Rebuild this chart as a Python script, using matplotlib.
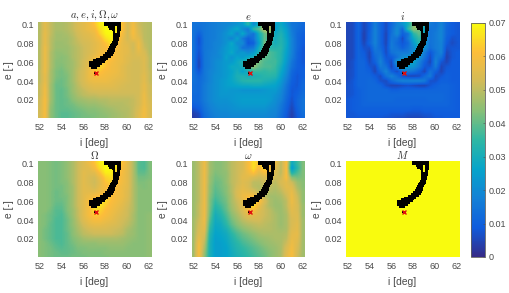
import numpy as np
import matplotlib
matplotlib.use("Agg")
import matplotlib.pyplot as plt
from matplotlib.colors import LinearSegmentedColormap
from matplotlib.cm import ScalarMappable
from matplotlib.colors import Normalize

plt.rcParams["font.family"] = ["Liberation Sans", "DejaVu Sans"]
plt.rcParams["mathtext.fontset"] = "cm"

# all grids in units of 1e-3, rows run from e=0.1 down to e=0, columns i=52..62
grid_all = [
    [49,56,51,48,48,49,51,54,56,58,62,68,70,70,68,62,53,59,52,50,49],
    [49,56,51,48,48,49,51,54,56,58,60,66,70,70,68,62,53,60,53,50,49],
    [49,57,51,47,47,48,50,53,55,56,58,64,69,70,67,60,53,60,54,50,49],
    [49,57,50,47,47,47,49,52,54,55,57,60,66,69,65,58,53,58,56,50,49],
    [49,57,50,46,46,47,49,51,53,54,56,58,62,66,62,57,55,53,58,51,49],
    [49,58,50,46,46,46,48,50,52,54,56,58,60,63,60,57,56,52,58,52,49],
    [49,58,49,45,45,46,48,50,52,54,56,59,60,62,59,57,56,53,56,54,49],
    [49,58,49,45,44,45,48,50,52,55,58,60,62,62,59,57,55,54,54,55,50],
    [49,58,49,44,44,45,47,50,53,56,60,62,63,60,58,57,55,53,53,55,50],
    [49,58,49,44,43,45,47,50,53,57,62,65,62,59,58,56,54,53,53,55,50],
    [50,58,48,43,42,44,47,51,54,58,63,62,60,59,58,56,54,53,53,55,51],
    [50,57,48,43,42,43,47,51,54,58,60,60,59,58,57,56,54,53,53,56,51],
    [50,57,48,42,41,43,47,51,54,57,58,58,58,57,56,55,54,53,53,56,51],
    [51,58,47,41,41,43,46,50,53,55,56,56,56,56,55,54,53,53,53,57,52],
    [51,59,47,41,40,42,46,49,51,53,54,54,54,54,54,53,53,53,53,57,52],
    [51,59,47,41,40,42,45,48,50,51,51,52,52,52,52,52,52,52,53,58,52],
    [52,60,47,41,40,41,44,46,47,48,48,49,49,50,50,50,50,51,53,58,53],
    [52,60,46,41,40,41,42,44,45,46,46,47,48,49,49,49,50,51,53,58,54],
    [53,60,45,41,40,40,41,42,43,44,44,45,46,47,48,49,49,51,54,59,54],
    [53,60,45,41,39,39,40,41,42,43,43,44,45,46,47,48,49,51,55,59,54],
    [53,60,45,41,39,39,40,41,42,42,43,44,44,46,47,48,49,51,55,59,54],
]

grid_e = [
    [14,14,15,16,17,18,19,20,22,24,35,20,30,55,50,25,28,22,15,14,12],
    [14,13,15,16,17,18,20,24,28,20,15,35,40,50,48,25,30,25,16,13,11],
    [14,10,15,16,17,19,22,26,18,28,18,14,30,40,44,28,32,26,17,12,10],
    [14,7,15,16,17,19,22,18,26,16,10,14,28,40,35,30,33,27,18,12,9],
    [14,7,15,16,18,19,22,28,20,20,8,10,25,42,35,30,33,28,18,12,9],
    [14,8,15,16,18,20,24,26,24,14,14,16,30,40,34,33,34,27,18,12,8],
    [14,7,15,17,18,21,24,28,22,24,20,24,32,42,38,36,33,26,18,11,8],
    [14,6,15,17,19,20,26,22,26,24,28,30,40,40,38,36,33,25,17,11,8],
    [14,5,15,17,20,22,24,24,28,32,34,45,42,38,37,37,32,24,15,10,8],
    [14,5,15,17,20,22,24,28,28,30,38,45,40,38,38,36,30,22,14,10,9],
    [14,8,15,18,20,22,24,26,30,26,30,36,36,35,36,35,28,21,12,9,10],
    [14,11,15,18,21,22,24,27,31,32,30,31,32,34,34,33,26,19,11,8,10],
    [14,12,15,18,21,23,25,27,30,33,34,34,34,32,31,29,24,17,10,8,11],
    [13,12,16,19,21,23,25,26,27,28,28,29,29,28,27,26,22,15,9,8,12],
    [13,12,16,19,21,23,24,23,23,22,22,22,22,23,24,24,20,14,8,9,12],
    [12,12,16,19,21,23,23,23,24,24,24,24,24,24,24,22,19,13,8,10,13],
    [12,12,16,19,21,22,22,23,24,25,25,25,25,25,24,21,18,12,7,11,14],
    [10,11,15,18,20,21,21,22,23,24,24,24,24,24,22,20,16,11,6,11,14],
    [7,9,14,17,19,20,20,21,22,22,22,22,22,22,20,19,15,10,5,10,14],
    [4,6,13,16,18,19,19,20,20,20,20,20,20,20,19,18,14,9,4,9,13],
    [3,5,12,15,17,18,18,19,19,19,19,19,19,19,18,17,13,8,4,8,12],
]

grid_i = [
    [5,6,11,5,9,17,11,6,12,18,22,30,45,55,30,16,14,18,12,9,8],
    [5,6,11,5,9,18,11,6,13,20,12,35,45,42,26,14,15,19,11,9,8],
    [5,6,11,4,10,18,11,5,14,20,10,14,34,40,28,14,16,19,11,9,8],
    [5,6,11,4,10,18,11,5,15,14,6,16,28,36,26,14,16,19,10,7,8],
    [5,6,11,5,11,18,11,5,16,12,8,12,24,34,24,14,16,18,9,6,8],
    [5,6,11,7,7,16,12,6,16,14,10,14,20,28,22,13,16,18,7,8,8],
    [5,6,11,9,5,14,14,6,14,16,16,16,22,26,16,8,14,18,5,8,9],
    [5,6,11,10,5,12,16,8,9,14,20,22,24,22,14,6,16,14,4,8,9],
    [5,7,11,11,6,10,18,10,6,24,28,25,26,18,10,5,18,8,5,9,9],
    [5,7,11,11,8,6,16,14,5,16,30,24,22,16,8,8,16,5,8,9,9],
    [6,7,11,11,10,5,12,18,10,6,14,16,14,10,5,14,10,5,9,9,9],
    [6,7,11,11,11,9,6,14,18,13,7,5,5,6,12,16,6,8,10,9,9],
    [6,8,11,11,12,11,7,6,12,16,18,18,18,18,16,7,7,10,10,9,9],
    [7,8,11,11,12,12,11,7,5,5,6,7,6,5,5,8,10,11,11,10,9],
    [7,8,10,11,12,12,12,12,10,10,11,11,11,11,11,11,11,11,11,10,9],
    [7,8,10,11,12,12,12,12,12,12,12,12,12,12,12,12,12,12,11,10,9],
    [8,9,10,11,12,12,12,12,12,11,11,11,11,11,11,12,12,12,11,10,9],
    [8,9,10,11,11,11,11,11,11,11,11,11,11,11,11,11,11,11,11,10,9],
    [8,9,10,10,10,10,10,10,10,10,10,10,9,9,10,10,10,10,10,10,9],
    [8,8,9,9,9,9,9,9,8,8,8,7,7,7,8,8,9,9,9,9,9],
    [8,8,8,8,8,8,8,7,7,6,6,5,5,5,6,7,8,8,9,9,9],
]

grid_raan = [
    [44,44,43,42,43,45,48,52,55,58,62,68,70,70,68,62,56,49,39,38,43],
    [44,44,43,42,43,45,48,52,55,56,60,66,70,70,66,60,56,49,39,38,43],
    [44,44,43,42,43,45,48,52,56,55,56,62,68,68,64,60,56,49,40,40,43],
    [44,44,43,42,43,45,48,52,56,54,53,58,64,66,62,59,56,49,42,42,43],
    [44,44,43,42,43,44,48,52,56,54,52,56,62,64,62,59,56,49,43,43,44],
    [44,44,43,42,42,44,47,52,56,55,53,57,60,62,60,58,56,49,44,43,44],
    [44,44,43,41,42,44,47,52,56,56,56,58,60,62,60,58,55,49,44,44,44],
    [44,44,43,41,42,43,47,52,56,58,60,62,63,62,59,58,55,49,44,44,44],
    [44,44,43,41,41,43,47,52,56,60,62,66,65,61,59,57,54,49,44,44,44],
    [44,44,43,40,40,43,47,52,56,60,65,67,63,60,58,56,53,49,44,44,44],
    [44,44,42,39,39,43,46,51,56,60,66,64,61,59,57,55,52,49,44,44,44],
    [44,43,41,39,38,42,46,51,56,60,63,62,60,58,56,54,52,48,44,44,45],
    [44,43,41,38,38,41,45,50,55,58,60,60,58,57,55,53,51,48,44,44,45],
    [44,43,40,38,38,41,45,49,53,56,57,57,56,55,54,52,50,47,44,44,45],
    [44,42,40,38,38,41,44,48,51,53,54,54,54,53,52,51,48,46,44,44,45],
    [44,42,40,38,38,40,44,47,50,51,52,52,52,52,51,50,47,46,44,44,45],
    [44,42,40,38,38,40,43,45,47,48,48,48,48,48,48,47,46,45,44,44,45],
    [44,43,41,39,38,40,42,44,45,45,45,46,46,46,46,46,45,44,44,44,45],
    [44,43,42,40,39,40,41,43,43,44,44,44,44,45,45,45,44,44,44,44,45],
    [44,43,42,41,40,40,41,42,43,43,43,43,44,44,44,44,44,44,44,44,45],
    [44,43,42,41,41,41,42,42,42,43,43,43,43,44,44,44,44,44,44,44,45],
]

grid_argp = [
    [46,50,58,47,44,44,46,50,52,54,60,66,62,68,62,58,50,60,28,36,43],
    [46,50,58,47,44,44,46,50,52,54,60,66,60,66,60,56,50,60,24,34,43],
    [46,50,58,47,43,44,45,50,52,55,58,62,56,60,58,54,50,60,32,38,43],
    [46,50,58,46,42,43,45,50,52,56,56,54,52,54,56,52,52,60,44,42,43],
    [46,50,58,46,41,42,45,50,52,55,54,50,50,52,52,50,54,56,52,46,44],
    [46,50,58,45,40,42,44,49,53,56,54,50,49,51,50,49,52,56,55,48,44],
    [46,50,58,45,39,41,44,49,54,57,56,54,50,50,49,48,50,54,57,50,45],
    [46,50,58,44,38,40,43,48,54,58,60,60,56,50,47,47,48,52,58,52,45],
    [46,50,58,43,36,39,42,48,52,56,60,64,62,54,48,46,47,50,58,53,45],
    [46,51,58,43,34,37,41,47,51,55,60,66,58,52,48,46,46,50,57,54,46],
    [46,51,58,42,32,35,40,46,50,54,60,60,55,52,50,47,46,49,56,54,46],
    [46,51,58,41,30,33,38,44,48,52,56,56,54,52,50,48,46,48,55,55,46],
    [47,52,58,39,29,31,36,42,46,50,52,53,53,51,50,48,46,48,54,55,47],
    [47,53,57,37,28,29,34,40,44,47,49,50,51,50,49,48,46,48,54,56,47],
    [47,54,56,35,27,28,31,37,41,44,46,48,49,49,49,48,47,48,55,56,47],
    [47,55,54,33,26,27,29,34,38,41,43,45,47,48,48,48,48,49,56,57,47],
    [47,57,52,32,25,26,28,32,36,39,41,43,45,46,47,48,48,50,57,56,47],
    [47,59,50,31,25,25,27,31,34,37,39,41,43,45,46,47,48,52,58,55,47],
    [47,60,48,31,25,25,26,30,33,35,37,39,41,43,45,46,48,54,59,54,47],
    [47,60,46,31,25,25,26,29,32,34,36,38,40,42,44,46,48,55,60,53,47],
    [47,60,45,31,25,25,26,29,31,33,35,37,39,41,44,46,48,56,60,52,47],
]

grid_anom = [[70] * 21 for _ in range(21)]

panels = [grid_all, grid_e, grid_i, grid_raan, grid_argp, grid_anom]
titles = [r"$a,e,i,\Omega,\omega$", r"$e$", r"$i$", r"$\Omega$", r"$\omega$", r"$M$"]

# black region, one segment per scan row
black_e = [0.102, 0.100, 0.098, 0.098, 0.096, 0.096, 0.094, 0.094, 0.092, 0.092, 0.090,
           0.088, 0.086, 0.084, 0.082, 0.080, 0.078, 0.076, 0.074, 0.072, 0.070, 0.068,
           0.066, 0.064, 0.062, 0.060, 0.058, 0.056, 0.054, 0.049]
black_lo = [57.9, 57.9, 58.25, 59.05, 58.35, 59.1, 58.6, 59.1, 58.7, 59.1, 58.7,
            58.75, 58.75, 58.7, 58.6, 58.5, 58.45, 58.4, 58.3, 58.2, 58.0, 57.8,
            57.55, 57.2, 56.9, 56.55, 56.5, 56.5, 56.7, 57.0]
black_hi = [59.5, 59.5, 58.9, 59.5, 58.9, 59.5, 58.9, 59.45, 58.9, 59.4, 59.4,
            59.35, 59.3, 59.25, 59.2, 59.15, 59.1, 59.0, 58.95, 58.9, 58.8, 58.7,
            58.5, 58.3, 58.1, 57.95, 57.7, 57.5, 57.3, 57.25]
nominal_i = [57.2]
nominal_e = [0.0485]

parula = LinearSegmentedColormap.from_list("parula", [
    "#352a87", "#0f5cdd", "#1481d6", "#06a4ca", "#2eb7a4",
    "#87bf77", "#d1bb59", "#fdbd3a", "#f9fb0e"])

W, H = 509, 293
text_col = "#4a4a4a"
col_x = [38, 192, 346]
row_y = [22, 161]
ax_w, ax_h = 113, 96

fig = plt.figure(figsize=(W / 100, H / 100), dpi=100)

for n, grid in enumerate(panels):
    x0 = col_x[n % 3]
    y0 = row_y[n // 3]
    ax = fig.add_axes([x0 / W, 1 - (y0 + ax_h) / H, ax_w / W, ax_h / H])
    ax.imshow(np.array(grid) / 1000, cmap=parula, vmin=0, vmax=0.07, aspect="auto",
              interpolation="bilinear", extent=(51.75, 62.25, -0.0025, 0.1025), origin="upper")
    ax.barh(black_e, np.array(black_hi) - np.array(black_lo), left=black_lo, height=0.0021,
            color="black", linewidth=0, zorder=3)
    ax.plot(nominal_i, nominal_e, "x", color="#e01010", markersize=3.5, markeredgewidth=1, zorder=4)
    ax.set_xlim(51.86, 62.2)
    ax.set_ylim(0.0005, 0.103)
    ax.set_xticks([52, 54, 56, 58, 60, 62])
    ax.set_yticks([0.02, 0.04, 0.06, 0.08, 0.1])
    ax.set_yticklabels(["0.02", "0.04", "0.06", "0.08", "0.1"])
    ax.tick_params(axis="x", length=0, labelsize=6.5, labelcolor=text_col, pad=3.5)
    ax.tick_params(axis="y", length=0, labelsize=6.5, labelcolor=text_col, pad=2.5)
    for side in ax.spines.values():
        side.set_visible(False)
    ax.set_title(titles[n], fontsize=7.6, color="#303030", pad=1.5)
    ax.set_xlabel("i [deg]", fontsize=7.4, color=text_col, labelpad=4.5)
    ax.set_ylabel("e [-]", fontsize=7.4, color=text_col, labelpad=2)

cax = fig.add_axes([470.5 / W, 1 - 257 / H, 14.5 / W, 234 / H])
cbar = fig.colorbar(ScalarMappable(Normalize(0, 0.07), parula), cax=cax)
cbar.set_ticks([0, 0.01, 0.02, 0.03, 0.04, 0.05, 0.06, 0.07])
cbar.set_ticklabels(["0", "0.01", "0.02", "0.03", "0.04", "0.05", "0.06", "0.07"])
cax.tick_params(direction="in", length=1.5, width=0.4, color="#505050",
                labelsize=6.5, labelcolor=text_col, pad=2.8)
cbar.outline.set_edgecolor("#606060")
cbar.outline.set_linewidth(0.6)

fig.savefig("out.png", dpi=100)
